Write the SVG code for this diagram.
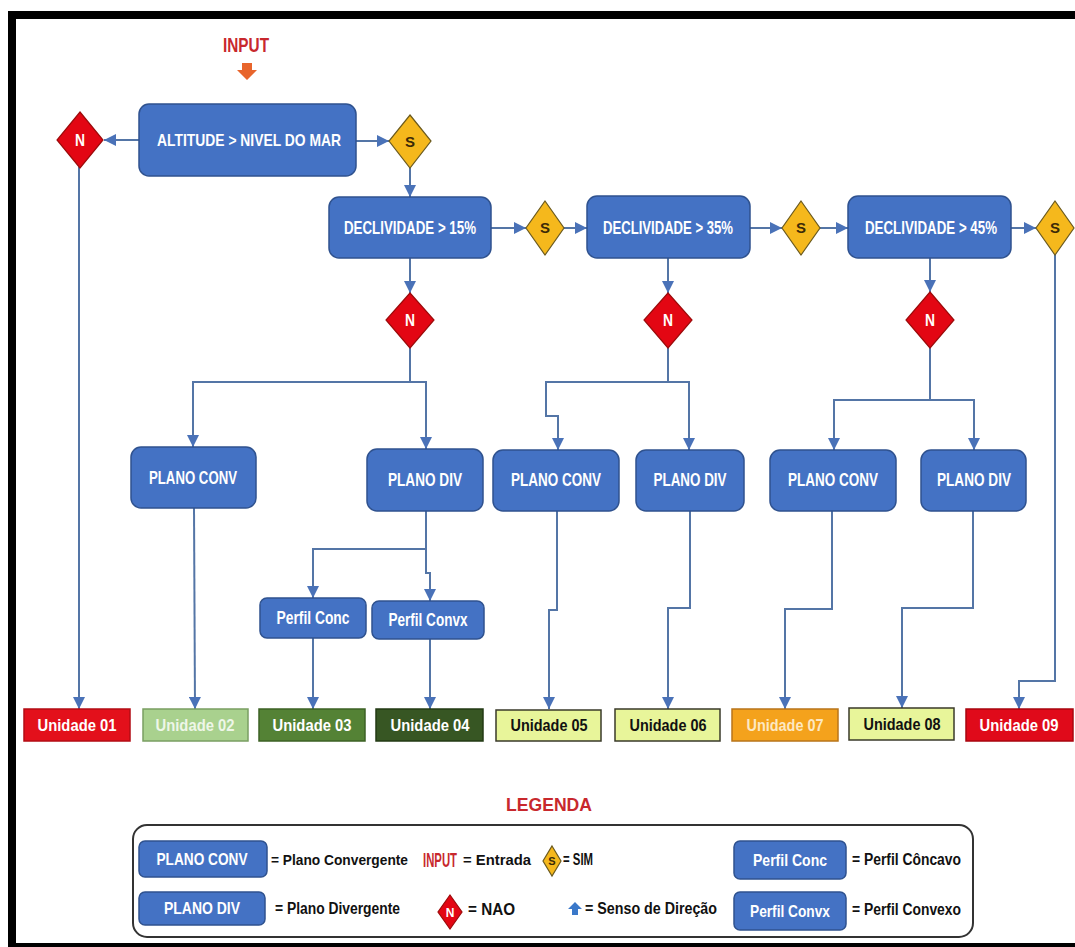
<svg xmlns="http://www.w3.org/2000/svg" width="1075" height="947" viewBox="0 0 1075 947">
<style>
  .box{fill:#4472c4;stroke:#2f528f;stroke-width:1.5}
  .lbl{font-family:"Liberation Sans Narrow","Liberation Sans",Arial,sans-serif;font-weight:bold;fill:#ffffff;text-anchor:middle}
  .dk{font-family:"Liberation Sans Narrow","Liberation Sans",Arial,sans-serif;font-weight:bold;fill:#111111}
  .red{font-family:"Liberation Sans Narrow","Liberation Sans",Arial,sans-serif;font-weight:bold;fill:#c8282d;text-anchor:middle}
  .n{fill:#e30613;stroke:#9c0a0a;stroke-width:1.2}
  .s{fill:#f5b81c;stroke:#6b5a1e;stroke-width:1.2}
  .conn path,.conn line,.conn polyline{fill:none;stroke:#5475a6;stroke-width:2}
  .unit{stroke-width:1.5}
</style>
<defs>
  <marker id="ah" viewBox="0 0 10 10" refX="10" refY="5" markerWidth="12" markerHeight="12" markerUnits="userSpaceOnUse" orient="auto">
    <path d="M0,0 L10,5 L0,10 z" fill="#4a72b8"/>
  </marker>
</defs>
<rect x="0" y="0" width="1075" height="947" fill="#ffffff"/>
<!-- frame -->
<rect x="8" y="11" width="1067" height="8" fill="#000"/>
<rect x="8" y="11" width="8" height="936" fill="#000"/>
<rect x="8" y="943" width="1067" height="4" fill="#000"/>

<!-- connectors -->
<g id="connectors" class="conn">
  <line x1="139" y1="140" x2="104" y2="140" marker-end="url(#ah)"/>
  <line x1="356" y1="141" x2="389" y2="141" marker-end="url(#ah)"/>
  <line x1="410" y1="168" x2="410" y2="197" marker-end="url(#ah)"/>
  <line x1="491" y1="228" x2="526" y2="228" marker-end="url(#ah)"/>
  <line x1="564" y1="228" x2="587" y2="228" marker-end="url(#ah)"/>
  <line x1="750" y1="228" x2="782" y2="228" marker-end="url(#ah)"/>
  <line x1="820" y1="228" x2="848" y2="228" marker-end="url(#ah)"/>
  <line x1="1011" y1="228" x2="1036" y2="228" marker-end="url(#ah)"/>
  <line x1="410" y1="258" x2="410" y2="293" marker-end="url(#ah)"/>
  <line x1="668" y1="258" x2="668" y2="293" marker-end="url(#ah)"/>
  <line x1="930" y1="258" x2="930" y2="292" marker-end="url(#ah)"/>
  <!-- N1 branches -->
  <polyline points="410,348 410,382"/>
  <polyline points="410,382 193,382 193,447" marker-end="url(#ah)"/>
  <polyline points="410,382 426,382 426,449" marker-end="url(#ah)"/>
  <!-- N2 branches -->
  <polyline points="668,348 668,382"/>
  <polyline points="668,382 546,382 546,416 558,416 558,450" marker-end="url(#ah)"/>
  <polyline points="668,382 689,382 689,450" marker-end="url(#ah)"/>
  <!-- N3 branches -->
  <polyline points="930,348 930,400"/>
  <polyline points="930,400 834,400 834,450" marker-end="url(#ah)"/>
  <polyline points="930,400 974,400 974,450" marker-end="url(#ah)"/>
  <!-- PLANO DIV 1 to perfil -->
  <polyline points="426,511 426,549"/>
  <polyline points="426,549 313,549 313,598" marker-end="url(#ah)"/>
  <polyline points="426,549 426,573 430,573 430,601" marker-end="url(#ah)"/>
  <!-- to units -->
  <polyline points="79,167 79,709" marker-end="url(#ah)"/>
  <polyline points="194,508 195,709" marker-end="url(#ah)"/>
  <polyline points="313,638 313,709" marker-end="url(#ah)"/>
  <polyline points="430,639 430,709" marker-end="url(#ah)"/>
  <polyline points="557,511 557,610 549,610 549,709" marker-end="url(#ah)"/>
  <polyline points="690,511 690,608 668,608 668,709" marker-end="url(#ah)"/>
  <polyline points="832,511 832,609 785,609 785,709" marker-end="url(#ah)"/>
  <polyline points="973,511 973,608 902,608 902,708" marker-end="url(#ah)"/>
  <polyline points="1055,255 1055,681 1019,681 1019,709" marker-end="url(#ah)"/>
</g>

<!-- input -->
<g id="input">
  <text class="red" x="246" y="52" font-size="20" textLength="46" lengthAdjust="spacingAndGlyphs">INPUT</text>
  <polygon points="242,63 252,63 252,70 257,70 247,80 237,70 242,70" fill="#e8652c"/>
</g>

<g id="altitude">
  <rect class="box" x="139" y="104" width="217" height="72" rx="10"/>
  <text class="lbl" x="249" y="146" font-size="17" textLength="184" lengthAdjust="spacingAndGlyphs">ALTITUDE &gt;  NIVEL DO MAR</text>
</g>
<g id="n0">
  <polygon class="n" points="80,112 103,140 80,168 57,140"/>
  <text class="lbl" x="80" y="146" font-size="17" textLength="10" lengthAdjust="spacingAndGlyphs">N</text>
</g>
<g id="s0">
  <polygon class="s" points="410,115 431,141 410,168 389,141"/>
  <text class="dk" x="410" y="147" font-size="15" text-anchor="middle" style="fill:#3b2a08">S</text>
</g>

<g id="decl15">
  <rect class="box" x="329" y="197" width="162" height="61" rx="10"/>
  <text class="lbl" x="410" y="234" font-size="18" textLength="132" lengthAdjust="spacingAndGlyphs">DECLIVIDADE &gt; 15%</text>
</g>
<g id="s1">
  <polygon class="s" points="545,201 564,228 545,255 526,228"/>
  <text class="dk" x="545" y="233" font-size="15" text-anchor="middle" style="fill:#3b2a08">S</text>
</g>
<g id="decl35">
  <rect class="box" x="587" y="196" width="163" height="62" rx="10"/>
  <text class="lbl" x="668" y="234" font-size="18" textLength="130" lengthAdjust="spacingAndGlyphs">DECLIVIDADE &gt; 35%</text>
</g>
<g id="s2">
  <polygon class="s" points="801,201 820,228 801,255 782,228"/>
  <text class="dk" x="801" y="233" font-size="15" text-anchor="middle" style="fill:#3b2a08">S</text>
</g>
<g id="decl45">
  <rect class="box" x="848" y="196" width="163" height="62" rx="10"/>
  <text class="lbl" x="931" y="234" font-size="18" textLength="132" lengthAdjust="spacingAndGlyphs">DECLIVIDADE &gt; 45%</text>
</g>
<g id="s3">
  <polygon class="s" points="1055,201 1074,228 1055,255 1036,228"/>
  <text class="dk" x="1055" y="233" font-size="15" text-anchor="middle" style="fill:#3b2a08">S</text>
</g>

<g id="n1">
  <polygon class="n" points="410,293 434,320 410,348 386,320"/>
  <text class="lbl" x="410" y="326" font-size="17" textLength="10" lengthAdjust="spacingAndGlyphs">N</text>
</g>
<g id="n2">
  <polygon class="n" points="668,293 692,320 668,348 644,320"/>
  <text class="lbl" x="668" y="326" font-size="17" textLength="10" lengthAdjust="spacingAndGlyphs">N</text>
</g>
<g id="n3">
  <polygon class="n" points="930,292 954,320 930,348 906,320"/>
  <text class="lbl" x="930" y="326" font-size="17" textLength="10" lengthAdjust="spacingAndGlyphs">N</text>
</g>

<g id="conv1">
  <rect class="box" x="131" y="447" width="125" height="61" rx="10"/>
  <text class="lbl" x="193" y="484" font-size="19" textLength="88" lengthAdjust="spacingAndGlyphs">PLANO CONV</text>
</g>
<g id="div1">
  <rect class="box" x="367" y="449" width="116" height="62" rx="10"/>
  <text class="lbl" x="425" y="486" font-size="19" textLength="74" lengthAdjust="spacingAndGlyphs">PLANO DIV</text>
</g>
<g id="conv2">
  <rect class="box" x="493" y="450" width="126" height="61" rx="10"/>
  <text class="lbl" x="556" y="486" font-size="19" textLength="90" lengthAdjust="spacingAndGlyphs">PLANO CONV</text>
</g>
<g id="div2">
  <rect class="box" x="636" y="450" width="108" height="61" rx="10"/>
  <text class="lbl" x="690" y="486" font-size="19" textLength="73" lengthAdjust="spacingAndGlyphs">PLANO DIV</text>
</g>
<g id="conv3">
  <rect class="box" x="770" y="450" width="126" height="61" rx="10"/>
  <text class="lbl" x="833" y="486" font-size="19" textLength="90" lengthAdjust="spacingAndGlyphs">PLANO CONV</text>
</g>
<g id="div3">
  <rect class="box" x="921" y="450" width="105" height="61" rx="10"/>
  <text class="lbl" x="974" y="486" font-size="19" textLength="74" lengthAdjust="spacingAndGlyphs">PLANO DIV</text>
</g>

<g id="perfilconc">
  <rect class="box" x="260" y="598" width="106" height="40" rx="7"/>
  <text class="lbl" x="313" y="624" font-size="18" textLength="73" lengthAdjust="spacingAndGlyphs">Perfil Conc</text>
</g>
<g id="perfilconvx">
  <rect class="box" x="372" y="601" width="112" height="38" rx="7"/>
  <text class="lbl" x="428" y="626" font-size="18" textLength="79" lengthAdjust="spacingAndGlyphs">Perfil Convx</text>
</g>

<!-- units -->
<g id="u01"><rect class="unit" x="24" y="709" width="106" height="32" fill="#e3101b" stroke="#b30c14"/>
  <text class="lbl" x="77" y="731" font-size="17" textLength="79" lengthAdjust="spacingAndGlyphs">Unidade 01</text></g>
<g id="u02"><rect class="unit" x="143" y="709" width="105" height="32" fill="#a9d18e" stroke="#7a9e62"/>
  <text class="lbl" x="195" y="731" font-size="17" textLength="79" lengthAdjust="spacingAndGlyphs" style="fill:#eef6e8">Unidade 02</text></g>
<g id="u03"><rect class="unit" x="259" y="709" width="106" height="32" fill="#548235" stroke="#3d6125"/>
  <text class="lbl" x="312" y="731" font-size="17" textLength="79" lengthAdjust="spacingAndGlyphs">Unidade 03</text></g>
<g id="u04"><rect class="unit" x="376" y="709" width="107" height="32" fill="#375623" stroke="#233a15"/>
  <text class="lbl" x="430" y="731" font-size="17" textLength="79" lengthAdjust="spacingAndGlyphs">Unidade 04</text></g>
<g id="u05"><rect class="unit" x="496" y="710" width="105" height="31" fill="#e8f59a" stroke="#3a3a2a"/>
  <text class="dk" x="549" y="731" font-size="17" text-anchor="middle" textLength="77" lengthAdjust="spacingAndGlyphs">Unidade 05</text></g>
<g id="u06"><rect class="unit" x="615" y="709" width="105" height="32" fill="#e8f59a" stroke="#3a3a2a"/>
  <text class="dk" x="668" y="731" font-size="17" text-anchor="middle" textLength="77" lengthAdjust="spacingAndGlyphs">Unidade 06</text></g>
<g id="u07"><rect class="unit" x="732" y="709" width="106" height="32" fill="#f4a21c" stroke="#b8741a"/>
  <text class="lbl" x="785" y="731" font-size="17" textLength="77" lengthAdjust="spacingAndGlyphs" style="fill:#fde8c2">Unidade 07</text></g>
<g id="u08"><rect class="unit" x="849" y="708" width="105" height="32" fill="#e8f59a" stroke="#3a3a2a"/>
  <text class="dk" x="902" y="730" font-size="17" text-anchor="middle" textLength="77" lengthAdjust="spacingAndGlyphs">Unidade 08</text></g>
<g id="u09"><rect class="unit" x="966" y="709" width="107" height="32" fill="#e00a1a" stroke="#a8060f"/>
  <text class="lbl" x="1019" y="731" font-size="17" textLength="79" lengthAdjust="spacingAndGlyphs">Unidade 09</text></g>

<!-- legend -->
<g id="legend">
  <text class="red" x="549" y="811" font-size="19" textLength="86" lengthAdjust="spacingAndGlyphs">LEGENDA</text>
  <rect x="133" y="825" width="840" height="112" rx="14" fill="none" stroke="#333" stroke-width="2"/>
  <rect class="box" x="139" y="841" width="128" height="36" rx="6"/>
  <text class="lbl" x="202" y="865" font-size="17" textLength="91" lengthAdjust="spacingAndGlyphs">PLANO CONV</text>
  <text class="dk" x="271" y="865" font-size="15" textLength="137" lengthAdjust="spacingAndGlyphs">= Plano Convergente</text>
  <text class="red" transform="translate(440,867) scale(1,1.4)" x="0" y="0" font-size="15" textLength="34" lengthAdjust="spacingAndGlyphs">INPUT</text>
  <text class="dk" x="463" y="865" font-size="15" textLength="68" lengthAdjust="spacingAndGlyphs">= Entrada</text>
  <polygon class="s" points="552,846 561,861 552,876 543,861"/>
  <text class="dk" x="552" y="865" font-size="11" text-anchor="middle" style="fill:#3b2a08">S</text>
  <text class="dk" x="563" y="865" font-size="16" textLength="30" lengthAdjust="spacingAndGlyphs">= SIM</text>
  <rect class="box" x="734" y="841" width="112" height="38" rx="6"/>
  <text class="lbl" x="790" y="866" font-size="17" textLength="74" lengthAdjust="spacingAndGlyphs">Perfil Conc</text>
  <text class="dk" x="852" y="865" font-size="16" textLength="109" lengthAdjust="spacingAndGlyphs">= Perfil Côncavo</text>

  <rect class="box" x="139" y="892" width="126" height="33" rx="6"/>
  <text class="lbl" x="202" y="914" font-size="17" textLength="76" lengthAdjust="spacingAndGlyphs">PLANO DIV</text>
  <text class="dk" x="275" y="914" font-size="16" textLength="125" lengthAdjust="spacingAndGlyphs">= Plano Divergente</text>
  <polygon class="n" points="450,895 462,912 450,929 438,912"/>
  <text class="lbl" x="450" y="917" font-size="12">N</text>
  <text class="dk" x="468" y="915" font-size="16" textLength="47" lengthAdjust="spacingAndGlyphs">= NAO</text>
  <polygon points="575,902 582,909 578,909 578,915 572,915 572,909 568,909" fill="#3a78c9"/>
  <text class="dk" x="585" y="914" font-size="16" textLength="132" lengthAdjust="spacingAndGlyphs">= Senso de Direção</text>
  <rect class="box" x="734" y="892" width="112" height="38" rx="6"/>
  <text class="lbl" x="790" y="917" font-size="17" textLength="80" lengthAdjust="spacingAndGlyphs">Perfil Convx</text>
  <text class="dk" x="852" y="915" font-size="16" textLength="109" lengthAdjust="spacingAndGlyphs">= Perfil Convexo</text>
</g>
</svg>
